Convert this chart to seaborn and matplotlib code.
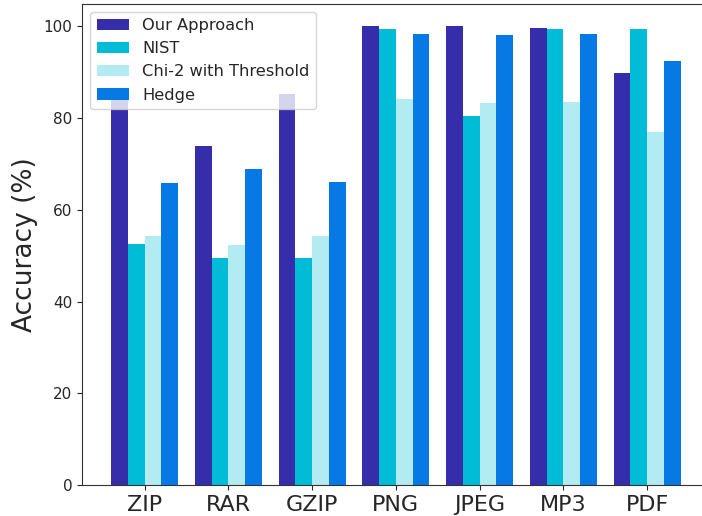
import pandas as pd
import matplotlib.pyplot as plt
import seaborn as sns

OUTPUT_PATH = "out.png"

file_types = ["ZIP", "RAR", "GZIP", "PNG", "JPEG", "MP3", "PDF"]
methods = ["Our Approach", "NIST", "Chi-2 with Threshold", "Hedge"]

our_approach = [84.0, 74.0, 85.2, 100.0, 100.0, 99.7, 89.9]
nist = [52.6, 49.5, 49.5, 99.5, 80.5, 99.5, 99.5]
chi2_threshold = [54.3, 52.4, 54.3, 84.2, 83.3, 83.6, 77.0]
hedge = [65.9, 69.0, 66.1, 98.4, 98.2, 98.4, 92.5]

colors = ["#352DA9", "#00BCD6", "#B2EBF2", "#0779E4"]


def build_frame() -> pd.DataFrame:
    rows = []
    for method, values in zip(methods, [our_approach, nist, chi2_threshold, hedge]):
        for ft, v in zip(file_types, values):
            rows.append({"file_type": ft, "method": method, "accuracy": v})
    return pd.DataFrame(rows)


def main():
    df = build_frame()

    sns.set_style("ticks")
    plt.rcParams['font.family'] = ['DejaVu Sans']

    fig = plt.figure(figsize=(7.02, 5.16), dpi=100)
    ax = fig.add_axes([0.1172, 0.0601, 0.894, 0.9331])

    sns.barplot(
        data=df,
        x="file_type",
        y="accuracy",
        hue="method",
        order=file_types,
        hue_order=methods,
        palette=colors,
        saturation=1,
        width=0.8,
        linewidth=0,
        errorbar=None,
        ax=ax,
    )

    ax.set_xlim(-0.745, 6.75)
    ax.set_ylim(0, 105)
    ax.set_yticks([0, 20, 40, 60, 80, 100])
    ax.set_xlabel("")
    ax.set_ylabel("Accuracy (%)", fontsize=19)
    ax.tick_params(axis="x", labelsize=16)
    ax.tick_params(axis="y", labelsize=11)
    for side in ["top", "left", "bottom"]:
        ax.spines[side].set_visible(True)
        ax.spines[side].set_color("#333333")
    ax.spines["right"].set_visible(False)

    ax.legend(loc="upper left", fontsize=11.7, frameon=True, framealpha=0.8,
              edgecolor="#cccccc", fancybox=True)

    fig.savefig(OUTPUT_PATH, dpi=100)
    plt.close(fig)


if __name__ == "__main__":
    main()
